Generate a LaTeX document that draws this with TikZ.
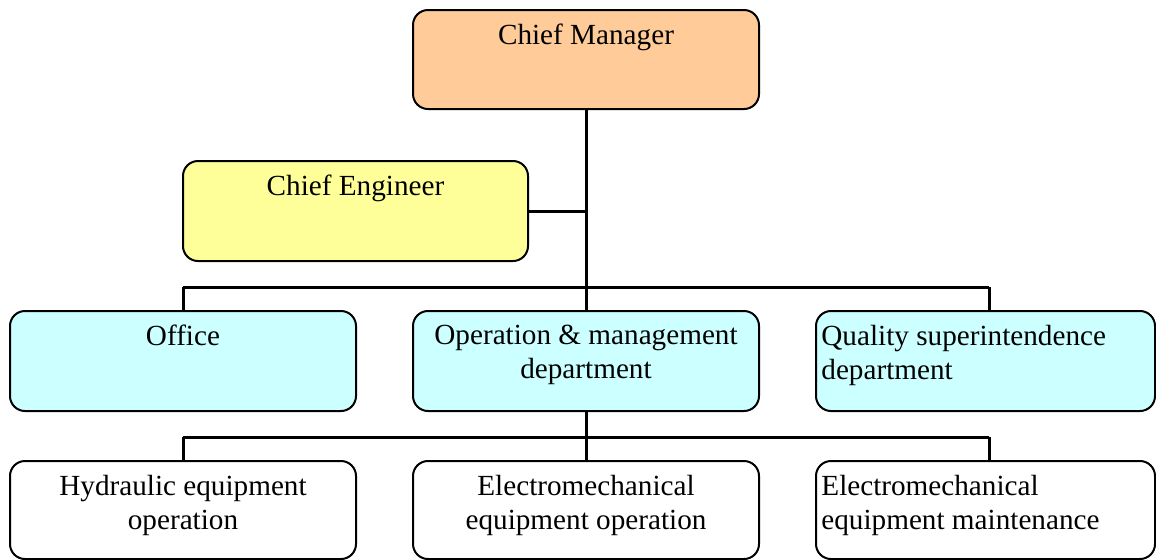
\documentclass[tikz,border=0pt]{standalone}
\usepackage{fontspec}
\setmainfont{Liberation Serif}
\definecolor{cmfill}{HTML}{FFCC99}
\definecolor{cefill}{HTML}{FFFF99}
\definecolor{dpfill}{HTML}{CCFFFF}
\tikzset{
  box/.style={draw=black, line width=1pt, rounded corners=7.5pt, minimum height=50pt, inner sep=0pt},
  txt/.style={inner sep=0pt, font=\fontsize{14.6pt}{17pt}\selectfont},
  conn/.style={draw=black, line width=1.5pt},
}
\begin{document}
\begin{tikzpicture}[x=0.5pt,y=-0.5pt]
\useasboundingbox (0,0) rectangle (1156,559);
\clip (0,0) rectangle (1156,559);
% boxes
\node[box, fill=cmfill, minimum width=173pt, minimum height=49.5pt] (cm) at (586,59.5) {};
\node[box, fill=cefill, minimum width=172.5pt] (ce) at (355.5,211) {};
\node[box, fill=dpfill, minimum width=173pt] (off) at (183,361) {};
\node[box, fill=dpfill, minimum width=173pt] (op) at (586,361) {};
\node[box, fill=dpfill, minimum width=169.5pt] (qs) at (985.5,361) {};
\node[box, fill=white, minimum width=173pt, minimum height=49pt] (hy) at (183,510) {};
\node[box, fill=white, minimum width=173pt, minimum height=49pt] (eo) at (586,510) {};
\node[box, fill=white, minimum width=169.5pt, minimum height=49pt] (em) at (985.5,510) {};
% texts
\node[txt, anchor=north] (tcm) at ([yshift=-7.5pt]cm.north) {Chief Manager};
\node[txt, anchor=north] (tce) at ([yshift=-7.5pt]ce.north) {Chief Engineer};
\node[txt, anchor=north] (toff) at ([yshift=-7.5pt]off.north) {Office};
\node[txt, anchor=north, align=center] (top) at ([yshift=-7.5pt]op.north) {Operation \& management\\department};
\node[txt, anchor=north west, align=left] (tqs) at ([xshift=3pt,yshift=-7.5pt]qs.north west) {Quality superintendence\\department};
\node[txt, anchor=north, align=center] (thy) at ([yshift=-7.5pt]hy.north) {Hydraulic equipment\\operation};
\node[txt, anchor=north, align=center] (teo) at ([yshift=-7.5pt]eo.north) {Electromechanical\\equipment operation};
\node[txt, anchor=north west, align=left] (tem) at ([xshift=3pt,yshift=-7.5pt]em.north west) {Electromechanical\\equipment maintenance};
% junctions
\coordinate (j1) at (586,287);
\coordinate (b1l) at (183,287);
\coordinate (b1r) at (989,287);
\coordinate (j2) at (586,437);
\coordinate (b2l) at (183,437);
\coordinate (b2r) at (989,437);
% connectors
\draw[conn] (cm.south) -- (j1);
\draw[conn] (ce.east) -- (ce.east -| j1);
\draw[conn] (b1l) -- (b1r);
\draw[conn] (b1l) -- (off.north);
\draw[conn] (j1) -- (op.north);
\draw[conn] (b1r) -- (b1r |- qs.north);
\draw[conn] (op.south) -- (j2);
\draw[conn] (b2l) -- (b2r);
\draw[conn] (b2l) -- (hy.north);
\draw[conn] (j2) -- (eo.north);
\draw[conn] (b2r) -- (b2r |- em.north);
\end{tikzpicture}
\end{document}
